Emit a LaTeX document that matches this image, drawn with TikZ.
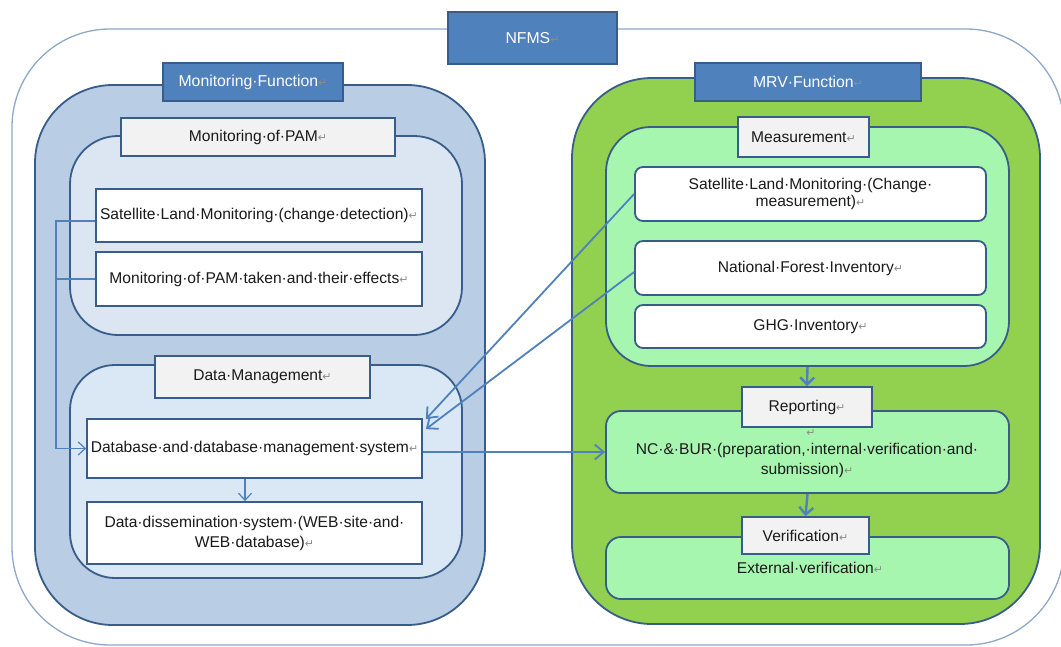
\documentclass[tikz,border=0pt]{standalone}
\usepackage{fontspec}
\setmainfont{Liberation Sans}
\newfontfamily\symfont{DejaVu Sans}
\usetikzlibrary{arrows.meta}

\definecolor{headblue}{HTML}{4F81BD}
\definecolor{lineblue}{HTML}{385D8A}
\definecolor{linkblue}{HTML}{4F81BD}
\definecolor{frameblue}{HTML}{8DA8C8}
\definecolor{monouter}{HTML}{B9CDE5}
\definecolor{moninner}{HTML}{DCE6F2}
\definecolor{datainner}{HTML}{DAE7F4}
\definecolor{mrvouter}{HTML}{92D050}
\definecolor{mrvinner}{HTML}{A7F6B0}
\definecolor{tagfill}{HTML}{F2F2F2}
\definecolor{textblack}{HTML}{1A1A1A}
\definecolor{retgray}{HTML}{8C8C8C}

% paragraph mark shown after each text
\newcommand\ret{{\color{retgray}\symfont\fontsize{11}{11}\selectfont ↵}}

\tikzset{
  panel/.style={draw=lineblue, line width=1.8pt, inner sep=0pt},
  box/.style={draw=lineblue, line width=1.8pt, fill=white, inner sep=0pt,
    align=center, text=textblack, font=\fontsize{15.6}{18}\selectfont},
  tag/.style={draw=lineblue, line width=1.8pt, fill=tagfill, inner sep=0pt,
    align=center, text=textblack, font=\fontsize{15.6}{18}\selectfont},
  head/.style={draw=lineblue, line width=1.8pt, fill=headblue, inner sep=0pt,
    align=center, text=white, font=\fontsize{15.8}{18}\selectfont},
  txt/.style={inner sep=0pt, align=center, text=textblack,
    font=\fontsize{15.6}{20}\selectfont},
  thinlink/.style={draw=linkblue, line width=1.2pt,
    -{Straight Barb[length=7pt,width=13pt,line width=1.2pt]}},
  link/.style={draw=linkblue, line width=1.8pt,
    -{Straight Barb[length=9pt,width=15pt,line width=1.8pt]}},
  flow/.style={draw=linkblue, line width=2.4pt,
    -{Straight Barb[length=7pt,width=14pt,line width=2.4pt]}},
}

\begin{document}
\begin{tikzpicture}[x=1pt,y=-1pt]
\useasboundingbox (0,0) rectangle (1061,646);

% NFMS frame
\draw[frameblue, line width=1.3pt, rounded corners=98pt] (12,29) rectangle (1064,645);

% ---------- Monitoring function ----------
\node[panel, fill=monouter, minimum width=450, minimum height=540, rounded corners=78pt] (monpanel) at (260,355) {};
\node[panel, fill=moninner, minimum width=392, minimum height=199, rounded corners=48pt] (pampanel) at (266,235.5) {};
\node[panel, fill=datainner, minimum width=392, minimum height=213, rounded corners=45pt] (dmpanel) at (266,471.5) {};

\node[head, minimum width=180, minimum height=38] (monhead) at (253,82) {Monitoring·Function\ret};
\node[tag, minimum width=274, minimum height=38] (pamtag) at (258,137) {Monitoring·of·PAM\ret};
\node[tag, minimum width=215, minimum height=42] (dmtag) at (262.5,377) {Data·Management\ret};

\node[box, minimum width=326, minimum height=53] (sat) at (259,215.5) {Satellite·Land·Monitoring·(change·detection)\ret};
\node[box, minimum width=326, minimum height=54] (pam) at (259,279) {Monitoring·of·PAM·taken·and·their·effects\ret};
\node[box, minimum width=335, minimum height=59] (db) at (254.5,448.5) {Database·and·database·management·system\ret};
\node[box, minimum width=335, minimum height=62, font=\fontsize{15.6}{20}\selectfont] (dissem) at (254.5,533) {Data·dissemination·system·(WEB·site·and·\\WEB·database)\ret};

% ---------- MRV function ----------
\node[panel, fill=mrvouter, minimum width=468, minimum height=546, rounded corners=80pt] (mrvpanel) at (806,351) {};
\node[panel, fill=mrvinner, minimum width=403, minimum height=239, rounded corners=45pt] (meas) at (807.5,246.5) {};
\node[panel, fill=mrvinner, minimum width=403, minimum height=82, rounded corners=15pt] (nc) at (807.5,452) {};
\node[panel, fill=mrvinner, minimum width=403, minimum height=62, rounded corners=15pt] (ext) at (807.5,568) {};

\node[head, minimum width=226, minimum height=38] (mrvhead) at (808,82) {MRV·Function\ret};
\node[tag, minimum width=131, minimum height=40] (meastag) at (803.5,137) {Measurement\ret};
\node[tag, minimum width=130, minimum height=40] (reptag) at (807,407) {Reporting\ret};
\node[tag, minimum width=127, minimum height=37] (vertag) at (805.5,535.5) {Verification\ret};

\node[box, rounded corners=8pt, minimum width=351, minimum height=54, font=\fontsize{15.6}{17}\selectfont] (satcm) at (810.5,194) {Satellite·Land·Monitoring·(Change·\\measurement)\ret};
\node[box, rounded corners=8pt, minimum width=351, minimum height=54] (nfi) at (810.5,268) {National·Forest·Inventory\ret};
\node[box, rounded corners=8pt, minimum width=351, minimum height=43] (ghg) at (810.5,326.5) {GHG·Inventory\ret};

\node[inner sep=0pt] (ncmark) at (811,433) {\ret};
\node[txt] (nctext) at (807,460) {NC·\&·BUR·(preparation,·internal·verification·and·\\submission)\ret};
\node[txt] (exttext) at (810,568) {External·verification\ret};

% NFMS title
\node[head, minimum width=169, minimum height=52] (nfms) at (532.5,38) {NFMS\ret};

% ---------- connectors ----------
\coordinate (bus) at (56,448.5);
\draw[thinlink] ([yshift=-5.5pt]sat.west) -| (bus) -- (db.west);
\draw[draw=linkblue, line width=1.2pt] (pam.west) -- (pam.west -| bus);
\draw[thinlink] ([xshift=-9.5pt]db.south) -- ([xshift=-9.5pt]dissem.north);
\draw[link] (db.east |- nc.west) -- (nc.west);
\draw[link] (satcm.west) -- ([xshift=3pt,yshift=-1pt]db.north east);
\draw[link] ([yshift=-4pt]nfi.west) -- ([xshift=3pt,yshift=-11pt]db.north east);
\draw[flow] (meas.south) -- (reptag.north);
\draw[flow] (nc.south) -- (vertag.north);
\end{tikzpicture}
\end{document}
